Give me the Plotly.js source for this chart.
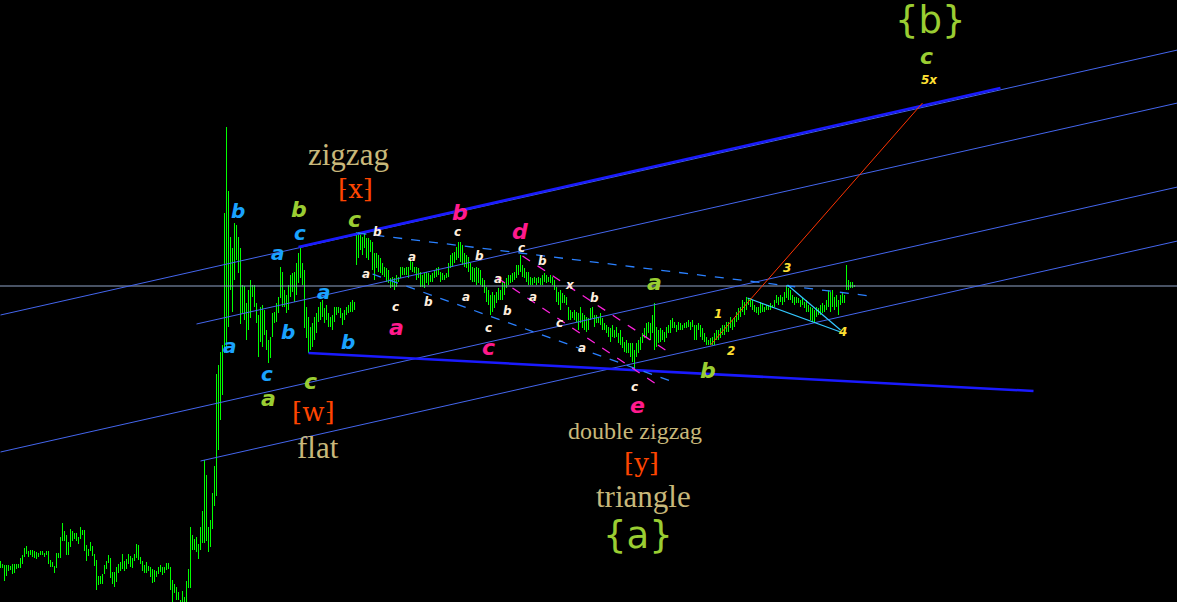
<!DOCTYPE html>
<html><head><meta charset="utf-8">
<script src="https://cdn.plot.ly/plotly-3.0.1.min.js"></script>
<style>html,body{margin:0;padding:0;background:#000;overflow:hidden}</style>
</head><body><div id="chart" style="width:1177px;height:602px"></div>
<script>
// ---- price bars (one per period), high / low ----
const high = [
41,38,37,37,37,36,38,38,38,38,
44,47,54,56,51,52,52,51,50,49,
51,51,49,51,51,42,40,36,49,49,
65,79,71,67,60,73,71,69,69,65,
75,72,72,57,53,60,56,48,42,26,
26,28,37,41,47,44,30,30,35,38,
40,48,41,43,48,46,44,48,58,57,
45,41,37,40,36,35,33,32,31,35,
37,35,35,39,39,35,22,18,15,10,
2,11,5,21,33,75,67,63,65,58,
75,91,142,127,75,82,109,136,228,237,
250,257,389,475,411,365,354,379,377,365,
354,317,316,299,312,322,317,317,299,287,
295,297,292,272,262,265,289,290,299,305,
335,330,312,307,317,327,329,330,339,349,
354,339,332,295,285,275,279,285,289,295,
300,302,294,297,289,285,287,295,295,295,
294,289,292,295,297,300,302,300,370,367,
367,365,369,364,364,362,360,349,349,347,
344,339,335,334,332,324,325,324,327,325,
335,335,334,335,335,342,340,335,335,334,
330,327,329,330,329,327,329,332,334,335,
330,329,327,329,339,347,349,350,355,360,
360,357,349,347,345,339,335,334,335,334,
332,324,322,315,312,307,310,307,310,314,
312,320,320,324,327,327,329,330,337,337,
347,337,334,330,330,325,324,325,324,325,
324,327,329,327,325,327,325,322,315,310,
312,309,307,305,295,292,290,292,290,289,
295,289,287,285,284,294,295,287,287,285,
289,284,279,277,275,274,277,272,275,269,
272,265,260,262,259,259,259,252,259,262,
265,269,274,279,280,279,287,299,275,272,
274,272,270,275,277,282,284,280,277,280,
279,277,279,280,282,280,282,277,277,279,
277,274,269,265,262,264,265,269,272,272,
274,277,277,280,280,285,282,285,290,294,
295,302,300,305,304,304,302,297,295,295,
300,299,295,297,297,299,297,302,307,305,
307,305,310,317,314,312,307,305,305,304,
302,304,300,302,297,295,294,292,295,294,
297,299,297,302,312,310,312,305,307,302,
307,309,307,337,322,320,320,317
];
const low = [
34,34,21,26,31,32,28,29,33,34,
34,38,45,48,45,47,45,44,43,45,
47,47,45,47,38,35,35,29,34,44,
44,61,61,47,47,55,61,63,61,58,
63,67,51,41,46,51,46,36,12,17,
18,18,28,33,39,24,18,15,20,29,
31,33,31,33,38,35,34,41,44,42,
38,31,29,29,31,25,19,20,25,28,
30,27,29,32,33,12,-3,9,2,2,
-3,-3,-3,-3,14,14,52,52,50,43,
52,59,59,61,50,55,73,96,106,152,
182,207,249,252,275,312,290,322,342,329,
278,289,282,262,272,284,305,295,279,245,
260,255,267,252,239,244,265,279,280,289,
304,295,295,289,292,305,310,300,307,319,
324,317,274,264,249,252,255,262,269,280,
282,285,279,282,275,275,272,280,287,289,
284,277,282,287,289,290,290,292,337,344,
352,347,354,344,342,350,332,322,334,330,
329,327,325,320,319,314,315,312,315,320,
324,327,327,327,324,332,330,329,322,324,
315,315,314,319,317,320,320,324,325,327,
320,322,322,324,325,334,335,339,342,344,
340,337,335,334,330,322,320,320,317,319,
317,315,309,300,297,287,290,294,299,302,
302,302,307,314,317,319,320,322,324,327,
330,325,324,320,317,317,317,319,317,319,
317,317,320,319,320,319,317,312,300,297,
292,299,299,297,282,282,284,282,280,272,
279,274,272,270,272,282,284,275,279,279,
277,272,272,269,265,260,265,264,265,259,
257,254,250,249,249,245,240,232,245,249,
252,259,264,265,269,262,269,252,255,259,
260,262,260,264,269,269,274,274,270,272,
272,272,274,274,275,272,275,262,262,272,
265,262,260,257,257,257,257,257,262,262,
264,267,267,270,270,274,272,275,280,282,
285,290,287,292,297,295,292,290,289,287,
289,290,290,292,292,292,294,295,299,297,
300,297,300,304,302,302,299,297,299,299,
295,297,294,290,290,282,280,280,285,287,
287,289,290,292,295,290,295,292,295,287,
297,299,299,312,312,314,314,315
];

// ---- trend lines (bar index, price) ----
const lineX0 = [-2, 0, 98, 0, 100, 149, 154, 178.5, 186, 261, 248.5, 373.5, 393.5, 355];
const lineY0 = [316, 287, 278, 150, 141, 355, 249, 369, 328, 346, 324, 304, 317, 257];
const lineX1 = [592, 588.5, 588.5, 588.5, 588.5, 500, 516.5, 435, 335, 332.5, 330, 420, 420, 461];
const lineY1 = [316, 552, 499, 415, 361, 514, 211, 306, 221, 252, 215, 270, 272, 499];
const lineColor = ['#90a4c8','#4466ee','#4466ee','#4466ee','#4466ee','#1a1aff','#1a1aff','#2a80ff','#2a80ff','#ff22dd','#ff22dd','#33c8ff','#33c8ff','#ff3300'];
const lineWidth = [1,1,1,1,1,2.5,2.5,1.3,1.3,1.3,1.3,1.2,1.2,1];
const lineDash = ['solid','solid','solid','solid','solid','solid','solid','dash','dash','dash','dash','solid','solid','solid'];

// ---- wave labels ----
const blueText = ['b','c','a','a','b','c','a','b'];
const blueX = [118.5,149.5,138.5,114.5,143.5,133,161.5,173.5];
const blueY = [391,369,349,256,270,228,310,260];

const greenText = ['b','c','c','a','a','b','c'];
const greenX = [149,177,155,134,327,353.5,463];
const greenY = [393,383,221,204,320,232,546];

const pinkText = ['b','d','a','c','e'];
const pinkX = [229.5,259.5,198,244,318.5];
const pinkY = [390,371,275,255,197];

const whiteText = ['b','a','a','c','b','c','b','a','c','b','a','c','b','a','c','x','b','a','c'];
const whiteX = [188.5,182.5,205.5,197.5,214,228.5,239.5,232.5,244,253.5,248.5,260.5,271,266,279.5,284.5,297,290.5,317];
const whiteY = [370,328,345,295,300,370,346,305,274,291,323,354,341,305,279,317,304,254,215];

const yellowText = ['1','2','3','4','5x'];
const yellowX = [358.5,365,393,421,464.5];
const yellowY = [288,251,334,270,522];

const serifText = ['zigzag','flat','double zigzag','triangle'];
const serifX = [174,158.5,317,321.5];
const serifY = [448,155,171,106];
const serifSize = [31,31,24,31];

const bracketText = ['⁅x⁆','⁅w⁆','⁅y⁆'];
const bracketX = [177.5,156.5,320.5];
const bracketY = [413,190,139];

const degreeText = ['{a}','{b}'];
const degreeX = [318.5,465];
const degreeY = [67,582];

// ---- build ----
const bx = [], by = [];
for (let i = 0; i < high.length; i++) { bx.push(i, i, null); by.push(low[i], high[i], null); }

const traces = [{
  type: 'scatter', mode: 'lines', x: bx, y: by, hoverinfo: 'skip',
  line: {color: '#00ff00', width: 1}, connectgaps: false
}];

const shapes = lineX0.map((x0, k) => ({
  type: 'line', xref: 'x', yref: 'y', x0: x0, y0: lineY0[k], x1: lineX1[k], y1: lineY1[k],
  layer: 'above', line: {color: lineColor[k], width: lineWidth[k], dash: lineDash[k]}
}));

const annotations = [];
function addGroup(texts, xs, ys, font, wrap) {
  texts.forEach((t, k) => annotations.push({
    x: xs[k], y: ys[k], xref: 'x', yref: 'y', showarrow: false,
    xanchor: 'center', yanchor: 'middle', borderpad: 0,
    text: wrap ? wrap(t) : t,
    font: Array.isArray(font.size) ? Object.assign({}, font, {size: font.size[k]}) : font
  }));
}
const bi = t => '<b><i>' + t + '</i></b>';
addGroup(blueText, blueX, blueY, {family: 'DejaVu Sans', size: 20, color: '#1aa3ff'}, bi);
addGroup(greenText, greenX, greenY, {family: 'DejaVu Sans', size: 22, color: '#9acd32'}, bi);
addGroup(pinkText, pinkX, pinkY, {family: 'DejaVu Sans', size: 22, color: '#ff1a8c'}, bi);
addGroup(whiteText, whiteX, whiteY, {family: 'DejaVu Sans', size: 12, color: '#ffeedd'}, bi);
addGroup(yellowText, yellowX, yellowY, {family: 'DejaVu Sans', size: 12, color: '#ffe033'}, bi);
addGroup(serifText, serifX, serifY, {family: 'Liberation Serif', size: serifSize, color: '#c8b87a'});
addGroup(bracketText, bracketX, bracketY, {family: 'DejaVu Serif', size: 26, color: '#ff4500'});
addGroup(degreeText, degreeX, degreeY, {family: 'DejaVu Sans', size: 37, color: '#9acd32'});

const layout = {
  width: 1177, height: 602,
  margin: {l: 0, r: 0, t: 0, b: 0, pad: 0},
  paper_bgcolor: '#000000', plot_bgcolor: '#000000',
  showlegend: false,
  xaxis: {range: [-0.25, 588.25], visible: false, fixedrange: true},
  yaxis: {range: [0, 602], visible: false, fixedrange: true},
  shapes: shapes, annotations: annotations
};
Plotly.newPlot('chart', traces, layout, {displayModeBar: false, staticPlot: true});
</script>
</body></html>
